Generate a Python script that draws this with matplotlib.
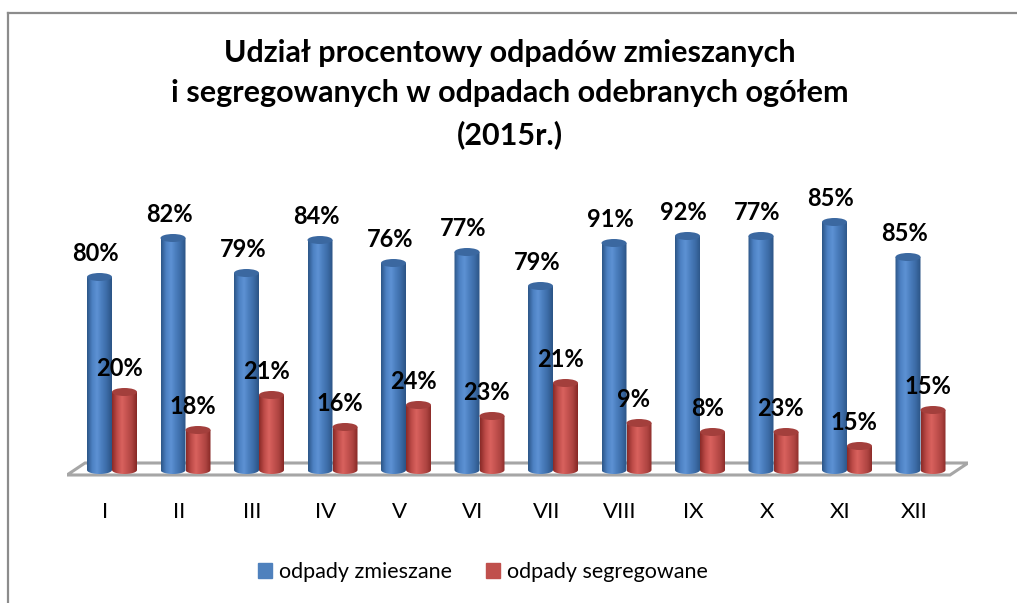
import numpy as np
import matplotlib
matplotlib.use('Agg')
import matplotlib.pyplot as plt
from matplotlib.patches import Ellipse, Polygon
from matplotlib.lines import Line2D
from matplotlib.colors import LinearSegmentedColormap

plt.rcParams['font.family'] = ['Lato', 'DejaVu Sans']

# data (bar heights, relative units; labels as printed)
months = ['I', 'II', 'III', 'IV', 'V', 'VI', 'VII', 'VIII', 'IX', 'X', 'XI', 'XII']
zmieszane_h = [193, 232, 197, 230, 207, 218, 184, 227, 234, 234, 248, 213]
segregowane_h = [78, 40, 75, 43, 65, 54, 87, 47, 38, 38, 24, 60]
zmieszane_pct = ['80%', '82%', '79%', '84%', '76%', '77%', '79%', '91%', '92%', '77%', '85%', '85%']
segregowane_pct = ['20%', '18%', '21%', '16%', '24%', '23%', '21%', '9%', '8%', '23%', '15%', '15%']

title = ('Udział procentowy odpadów zmieszanych\n'
         'i segregowanych w odpadach odebranych ogółem\n(2015r.)')

BLUE = '#4F81BD'
RED = '#C0504D'
blue_cmap = LinearSegmentedColormap.from_list(
    'b', ['#2C5687', '#4C80C2', '#5D92D4', '#4A7DBD', '#3C6BA6', '#2B5485'])
red_cmap = LinearSegmentedColormap.from_list(
    'r', ['#8A2A27', '#BD4B48', '#D9625E', '#C4524F', '#AD4441', '#862825'])

W = 1017
H = 603
fig = plt.figure(figsize=(W / 100, H / 100), dpi=100)

# chart frame (top and left edge visible)
fig.add_artist(Line2D([8 / W, 1.0], [1 - 13 / H, 1 - 13 / H], color='#8C8C8C', lw=1.6))
fig.add_artist(Line2D([8 / W, 8 / W], [0, 1 - 13 / H], color='#8C8C8C', lw=1.6))

# axes: 1 data unit in y == 1 px, category spacing 73.5 px
ax = fig.add_axes([67 / W, (H - 480) / H, (968 - 67) / W, 300 / H])
ax.set_axis_off()
step = 73.5
xl = (67 - 112) / step
xr = (968 - 112) / step

# floor
dx = 18 / step
floor = Polygon([[xl, -5], [(950 - 112) / step, -5], [xr, 7], [xl + dx, 7]],
                closed=True, facecolor='white', edgecolor='#A6A6A6', lw=2.2, zorder=1)
ax.add_patch(floor)

bw = 25 / step
ell_h = 8
x = np.arange(len(months))
grad = np.linspace(0, 1, 64).reshape(1, -1)


def cylinder(xc, h, cmap, top_color):
    x0, x1 = xc - bw / 2, xc + bw / 2
    t = np.linspace(np.pi, 2 * np.pi, 30)
    bottom = np.column_stack([xc + bw / 2 * np.cos(t), ell_h / 2 * np.sin(t)])
    pts = np.vstack([[[x0, h]], bottom, [[x1, h]]])
    body = Polygon(pts, closed=True, facecolor='none', edgecolor='none', zorder=3)
    ax.add_patch(body)
    im = ax.imshow(grad, cmap=cmap, extent=[x0, x1, -ell_h, h], aspect='auto',
                   interpolation='bilinear', zorder=3)
    im.set_clip_path(body)
    ax.add_patch(Ellipse((xc, h), bw, ell_h, facecolor=top_color,
                         edgecolor='none', zorder=4))


for i in x:
    xb = i - bw / 2
    xr_ = i + bw / 2
    cylinder(xb, zmieszane_h[i], blue_cmap, '#3B68A0')
    cylinder(xr_, segregowane_h[i], red_cmap, '#A33F3C')
    ax.text(xb - 0.05, zmieszane_h[i] + 16, zmieszane_pct[i], ha='center',
            va='baseline', fontsize=17, fontweight='bold', zorder=5)
    ax.text(xr_ - 0.07, segregowane_h[i] + 16, segregowane_pct[i], ha='center',
            va='baseline', fontsize=17, fontweight='bold', zorder=5)
    ax.text(i - 0.09, -48, months[i], ha='center', va='baseline', fontsize=16)

ax.set_xlim(xl, xr)
ax.set_ylim(-10, 290)

# title
fig.text(510 / W, 1 - 39 / H, title, ha='center', va='top', fontsize=22,
         fontweight='bold', linespacing=1.53)

# legend
handles = [plt.Rectangle((0, 0), 1, 1, color=BLUE), plt.Rectangle((0, 0), 1, 1, color=RED)]
fig.legend(handles, ['odpady zmieszane', 'odpady segregowane'], loc='center',
           bbox_to_anchor=(483 / W, 1 - 572 / H), ncol=2, frameon=False,
           fontsize=15.5, handlelength=0.65, handleheight=0.65, handletextpad=0.3,
           columnspacing=1.6)

fig.savefig('out.png', dpi=100)
